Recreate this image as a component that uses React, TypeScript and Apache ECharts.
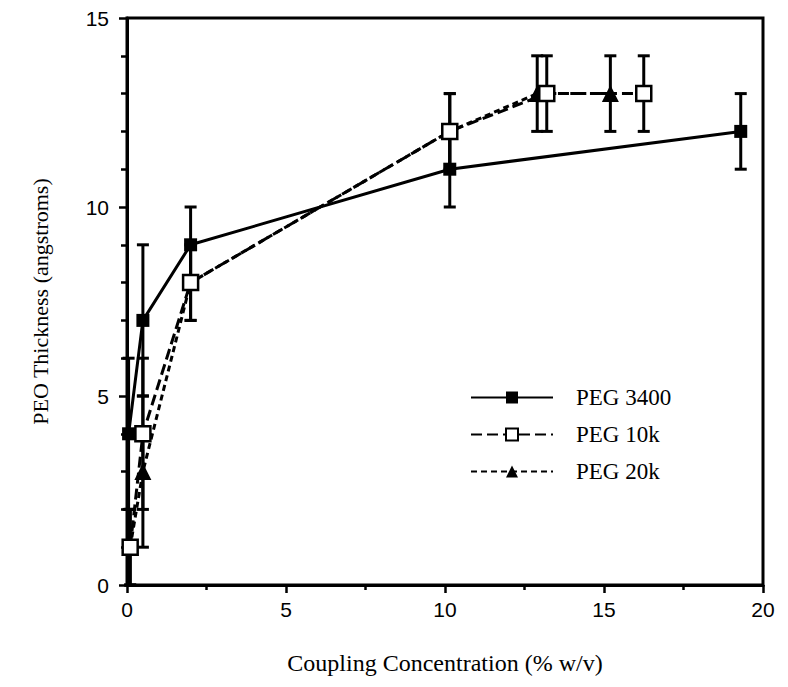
import React, { useEffect, useRef } from "react";
import * as echarts from "echarts";

const x3400 = [0.05, 0.5, 2, 10.15, 19.3];
const y3400 = [4, 7, 9, 11, 12];
const e3400 = [2, 2, 1, 1, 1];

const x10k = [0.1, 0.5, 2, 10.15, 13.2, 16.25];
const y10k = [1, 4, 8, 12, 13, 13];
const e10k = [1, 2, 1, 1, 1, 1];

const x20k = [0.1, 0.5, 2, 10.15, 12.9, 15.2];
const y20k = [1, 3, 8, 12, 13, 13];
const e20k = [1, 2, 1, 1, 1, 1];

const xTicks = [0, 5, 10, 15, 20];
const yTicks = [0, 5, 10, 15];

const pts = (xs: number[], ys: number[]) => xs.map((x, i) => [x, ys[i]]);
const errs = (xs: number[], ys: number[], es: number[]) =>
  xs.map((x, i) => [x, ys[i] - es[i], ys[i] + es[i]]);

const renderErr = (params: any, api: any) => {
  const x = api.value(0);
  const lo = api.coord([x, api.value(1)]);
  const hi = api.coord([x, api.value(2)]);
  const w = 6;
  const style = { stroke: "#000", lineWidth: 3 };
  return {
    type: "group",
    children: [
      { type: "line", shape: { x1: lo[0], y1: lo[1], x2: hi[0], y2: hi[1] }, style },
      { type: "line", shape: { x1: lo[0] - w, y1: lo[1], x2: lo[0] + w, y2: lo[1] }, style },
      { type: "line", shape: { x1: hi[0] - w, y1: hi[1], x2: hi[0] + w, y2: hi[1] }, style },
    ],
  };
};

export default function App() {
  const ref = useRef<HTMLDivElement>(null);
  useEffect(() => {
    if (!ref.current) return;
    const chart = echarts.init(ref.current, null, { renderer: "svg" });
    const sans = "Liberation Sans";
    const serif = "Liberation Serif";
    chart.setOption({
      animation: false,
      backgroundColor: "#fff",
      grid: {
        left: 127,
        right: 25,
        top: 18,
        bottom: 102,
        show: true,
        borderColor: "#000",
        borderWidth: 3,
        backgroundColor: "transparent",
      },
      legend: {
        orient: "vertical",
        left: 465,
        top: 381,
        itemWidth: 82,
        itemHeight: 15,
        itemGap: 14,
        data: ["PEG 3400", "PEG 10k", "PEG 20k"],
        textStyle: { fontFamily: serif, fontSize: 23, color: "#000", padding: [0, 0, 0, 18] },
      },
      xAxis: {
        type: "value",
        min: 0,
        max: 20,
        interval: 5,
        name: "Coupling Concentration (% w/v)",
        nameLocation: "middle",
        nameGap: 66,
        nameTextStyle: { fontFamily: serif, fontSize: 24, color: "#000" },
        axisLine: { show: true, lineStyle: { color: "#000", width: 3 } },
        axisTick: { show: true, length: 8, lineStyle: { color: "#000", width: 2.5 } },
        minorTick: { show: true, splitNumber: 2, length: 5, lineStyle: { color: "#000", width: 2.5 } },
        splitLine: { show: false },
        axisLabel: {
          margin: 14,
          fontFamily: sans,
          fontSize: 21,
          color: "#000",
          formatter: (v: number) => (xTicks.includes(v) ? String(v) : ""),
        },
      },
      yAxis: {
        type: "value",
        min: 0,
        max: 15,
        interval: 5,
        name: "PEO Thickness (angstroms)",
        nameLocation: "middle",
        nameGap: 76,
        nameTextStyle: { fontFamily: serif, fontSize: 22, color: "#000" },
        axisLine: { show: true, lineStyle: { color: "#000", width: 3 } },
        axisTick: { show: true, length: 8, lineStyle: { color: "#000", width: 2.5 } },
        minorTick: { show: true, splitNumber: 5, length: 6, lineStyle: { color: "#000", width: 2.5 } },
        splitLine: { show: false },
        axisLabel: {
          margin: 18,
          fontFamily: sans,
          fontSize: 21,
          color: "#000",
          formatter: (v: number) => (yTicks.includes(v) ? String(v) : ""),
        },
      },
      series: [
        {
          name: "err3400",
          type: "custom",
          renderItem: renderErr,
          data: errs(x3400, y3400, e3400),
          encode: { x: 0, y: [1, 2] },
          z: 1,
        },
        {
          name: "err10k",
          type: "custom",
          renderItem: renderErr,
          data: errs(x10k, y10k, e10k),
          encode: { x: 0, y: [1, 2] },
          z: 1,
        },
        {
          name: "err20k",
          type: "custom",
          renderItem: renderErr,
          data: errs(x20k, y20k, e20k),
          encode: { x: 0, y: [1, 2] },
          z: 1,
        },
        {
          name: "PEG 3400",
          type: "line",
          data: pts(x3400, y3400),
          symbol: "rect",
          symbolSize: 13,
          lineStyle: { color: "#000", width: 3, type: "solid" },
          itemStyle: { color: "#000", borderColor: "#000", borderWidth: 0 },
          z: 3,
        },
        {
          name: "PEG 10k",
          type: "line",
          data: pts(x10k, y10k),
          symbol: "rect",
          symbolSize: 15,
          lineStyle: { color: "#000", width: 3, type: [11, 5] },
          itemStyle: { color: "#fff", borderColor: "#000", borderWidth: 2.5 },
          z: 4,
        },
        {
          name: "PEG 20k",
          type: "line",
          data: pts(x20k, y20k),
          symbol: "triangle",
          symbolSize: 17,
          lineStyle: { color: "#000", width: 3, type: [6, 4] },
          itemStyle: { color: "#000", borderColor: "#000", borderWidth: 0 },
          z: 3,
        },
      ],
    });
    return () => chart.dispose();
  }, []);
  return <div ref={ref} style={{ width: 788, height: 687, margin: -8 }} />;
}
